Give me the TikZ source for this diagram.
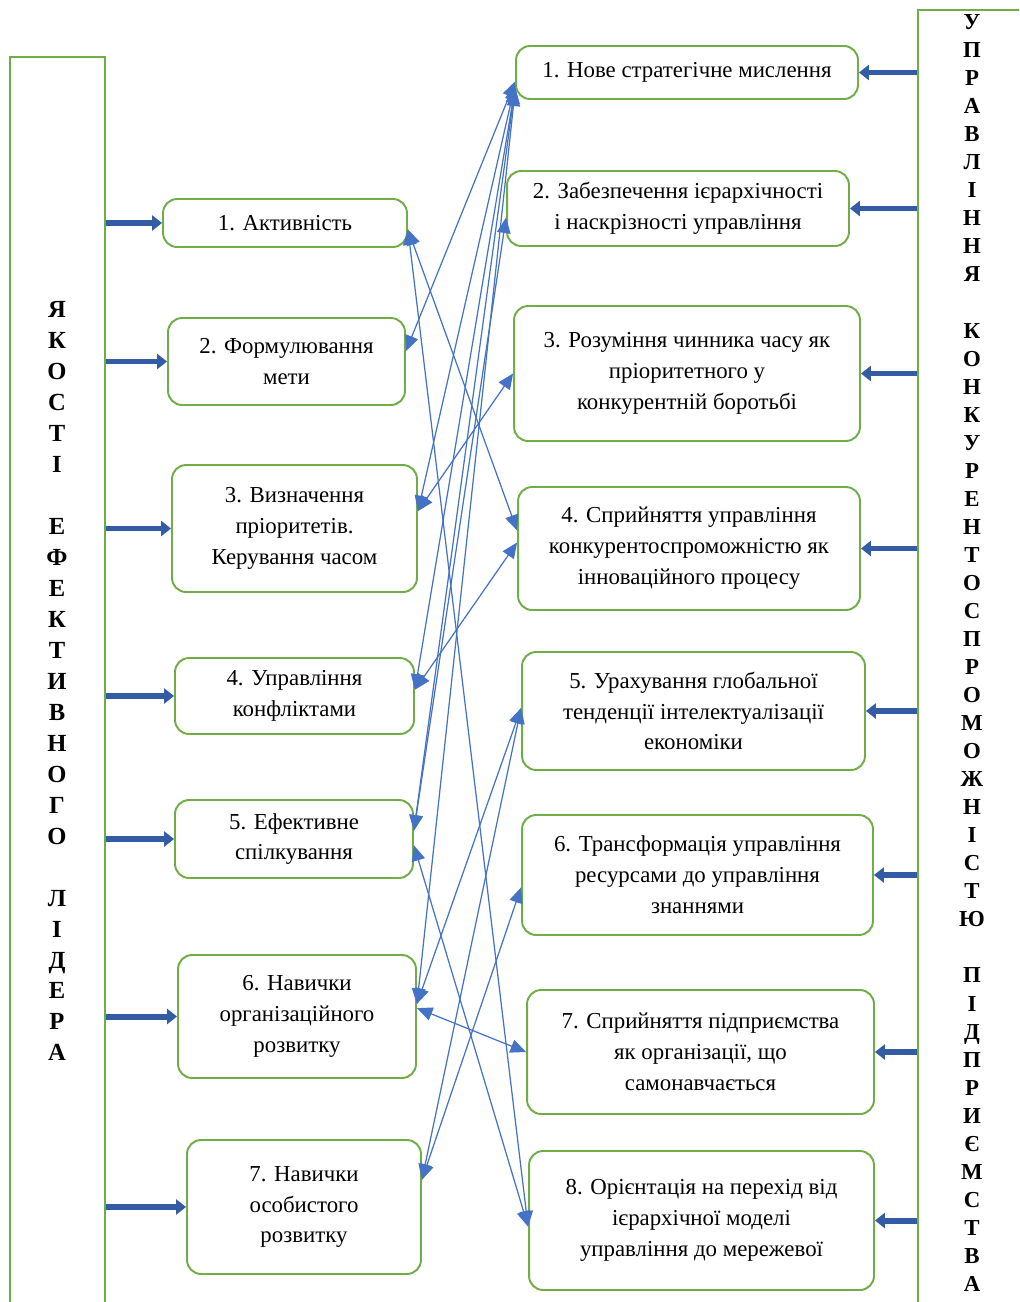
\documentclass[tikz,border=0pt]{standalone}
\usepackage{fontspec}
\setmainfont{Liberation Serif}
\usetikzlibrary{arrows.meta}
\definecolor{boxgreen}{RGB}{112,173,71}
\definecolor{linkblue}{RGB}{68,114,196}
\definecolor{barblue}{RGB}{52,92,165}

\begin{document}
\begin{tikzpicture}[
  x=0.02cm, y=-0.02cm,
  every node/.style={font=\fontsize{13}{17.6}\selectfont},
  qbox/.style={draw=boxgreen, line width=1.1pt, rounded corners=8pt,
    align=center, inner sep=2pt},
  bar/.style={draw=boxgreen, line width=1.1pt, inner sep=0pt},
  vtext/.style={align=center, inner sep=0pt},
  push/.style={draw=barblue, line width=3.4pt,
    -{Triangle[length=2mm, width=3mm]}},
  link/.style={linkblue, line width=0.7pt,
    {Triangle[length=3.1mm, width=2.7mm]}-{Triangle[length=3.1mm, width=2.7mm]}}
]
\useasboundingbox (0,0) rectangle (1019,1302);
\clip (0,0) rectangle (1019,1302);
\fill[white] (0,0) rectangle (1019,1302);

% The two side bars.
\node[bar, minimum width=1.9cm, minimum height=25.26cm] (lbar) at (57.5,688.5) {};
\node[bar, minimum width=2.24cm, minimum height=26.2cm] (rbar) at (974,665) {};
\node[vtext, font=\bfseries\fontsize{14}{17.64}\selectfont] (qual) at (57,681)
  {Я\\К\\О\\С\\Т\\І\\[17.64pt]Е\\Ф\\Е\\К\\Т\\И\\В\\Н\\О\\Г\\О\\[17.64pt]Л\\І\\Д\\Е\\Р\\А};
\node[vtext, font=\bfseries\fontsize{13}{15.96}\selectfont] (mgmt) at (972,653)
  {У\\П\\Р\\А\\В\\Л\\І\\Н\\Н\\Я\\[15.96pt]К\\О\\Н\\К\\У\\Р\\Е\\Н\\Т\\О\\С\\П\\Р\\О\\М\\О\\Ж\\Н\\І\\С\\Т\\Ю\\[15.96pt]П\\І\\Д\\П\\Р\\И\\Є\\М\\С\\Т\\В\\А};

% Leader qualities.
\node[qbox, minimum width=4.88cm, minimum height=0.96cm] (l1) at (285,223) {1. Активність};
\node[qbox, minimum width=4.74cm, minimum height=1.74cm] (l2) at (286.5,361.5) {2. Формулювання\\мети};
\node[qbox, minimum width=4.90cm, minimum height=2.54cm] (l3) at (294.5,528.5) {3. Визначення\\пріоритетів.\\Керування часом};
\node[qbox, minimum width=4.78cm, minimum height=1.52cm] (l4) at (294.5,696) {4. Управління\\конфліктами};
\node[qbox, minimum width=4.76cm, minimum height=1.56cm] (l5) at (294,839) {5. Ефективне\\спілкування};
\node[qbox, minimum width=4.76cm, minimum height=2.46cm] (l6) at (297,1016.5) {6. Навички\\організаційного\\розвитку};
\node[qbox, minimum width=4.68cm, minimum height=2.68cm] (l7) at (304,1207) {7. Навички\\особистого\\розвитку};

% Competitiveness management.
\node[qbox, minimum width=6.84cm, minimum height=1.06cm] (r1) at (687,72.5) {1. Нове стратегічне мислення};
\node[qbox, minimum width=6.84cm, minimum height=1.50cm] (r2) at (678,208.5) {2. Забезпечення ієрархічності\\і наскрізності управління};
\node[qbox, minimum width=6.92cm, minimum height=2.70cm] (r3) at (687,373.5) {3. Розуміння чинника часу як\\пріоритетного у\\конкурентній боротьбі};
\node[qbox, minimum width=6.84cm, minimum height=2.46cm] (r4) at (689,548.5) {4. Сприйняття управління\\конкурентоспроможністю як\\інноваційного процесу};
\node[qbox, minimum width=6.86cm, minimum height=2.36cm] (r5) at (693.5,711) {5. Урахування глобальної\\тенденції інтелектуалізації\\економіки};
\node[qbox, minimum width=7.02cm, minimum height=2.40cm] (r6) at (697.5,875) {6. Трансформація управління\\ресурсами до управління\\знаннями};
\node[qbox, minimum width=6.94cm, minimum height=2.48cm] (r7) at (700.5,1052) {7. Сприйняття підприємства\\як організації, що\\самонавчається};
\node[qbox, minimum width=6.90cm, minimum height=2.78cm] (r8) at (701.5,1220.5) {8. Орієнтація на перехід від\\ієрархічної моделі\\управління до мережевої};

% Block arrows from the bars.
\foreach \n in {l1,l2,l3,l4,l5,l6,l7}
  \draw[push] (lbar.east |- \n.west) -- (\n.west);
\foreach \n in {r1,r2,r3,r4,r5,r6,r7,r8}
  \draw[push] (rbar.west |- \n.east) -- (\n.east);

% Links between the two columns.
\foreach \a/\b in {r1.183/l2.5, r1.184/l3.8, r1.185/l4.3, r1.185/l5.4,
    r1.186/l6.6, r2.183/l5.4, r3.180/l3.8, r4.174/l1.357, r4.178/l4.3,
    r5.179/l6.6, r5.179/l7.13, r6.184/l7.13, r7.180/l6.4, r8.182/l1.357,
    r8.182/l5.357}
  \draw[link] (\a) -- (\b);
\end{tikzpicture}
\end{document}
